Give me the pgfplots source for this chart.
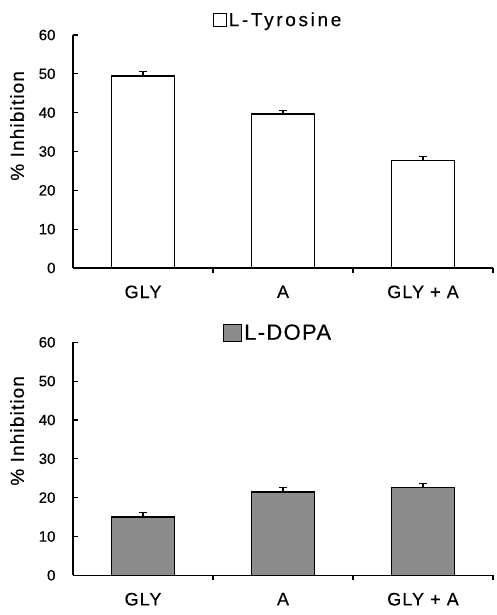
\documentclass[border=0pt]{standalone}
\usepackage{pgfplots}
\pgfplotsset{compat=1.18}
\usepackage{fontspec}
\setmainfont{Liberation Sans}
\newfontfamily\wide[LetterSpace=6,FakeBold=0.4]{Liberation Sans}
\newfontfamily\widett[LetterSpace=14,FakeBold=0.4]{Liberation Sans}
\newfontfamily\tickf[FakeBold=0.4]{Liberation Sans}
\definecolor{dopagray}{HTML}{8C8C8C}

\pgfplotsset{
  panel/.style={
    width=420pt, height=233pt, scale only axis,
    xmin=0, xmax=3, ymin=0, ymax=60,
    axis x line=bottom, axis y line=left,
    axis line style={-, line width=1.6pt},
    tick align=inside,
    major tick length=5pt,
    tick style={black, line width=1.2pt},
    ytick={0,10,...,60},
    yticklabel style={font=\tickf\fontsize{15}{15}\selectfont, xshift=-14pt},
    /pgf/number format/assume math mode=true,
    xtick={1,2,3}, xticklabels={},
    extra x ticks={0.5,1.5,2.5},
    extra x tick labels={GLY, A, GLY + A},
    extra x tick style={major tick length=0pt,
      xticklabel style={font=\wide\fontsize{18}{18}\selectfont, yshift=-14pt}},
    ybar, bar width=0.45,
    error bars/y dir=plus, error bars/y explicit,
    error bars/error bar style={line width=1.2pt, black},
    error bars/error mark options={rotate=90, mark size=4pt, line width=1.2pt, black},
    legend style={draw=none, fill=none, anchor=center},
    clip=false,
  }
}

\begin{document}
\begin{tikzpicture}
\useasboundingbox (0,0) rectangle (496pt,615pt);

% L-Tyrosine
\begin{axis}[panel, at={(73pt,347pt)}, anchor=south west,
  legend style={at={(0.488,1)}, yshift=15pt, font=\widett\fontsize{19}{19}\selectfont},
  legend image code/.code={\draw[black, line width=1.2pt, fill=white] (0pt,-6.5pt) rectangle (13pt,6.5pt);}]
\addplot[draw=black, line width=1.6pt, fill=white]
  coordinates {(0.5,49.5) +- (0,1.1) (1.5,39.7) +- (0,0.8) (2.5,27.7) +- (0,1.1)};
\addlegendentry{L-Tyrosine}
\node[rotate=90, font=\fontsize{19}{19}\selectfont\wide] at (rel axis cs:-0.133,0.61) {\% Inhibition};
\end{axis}

% L-DOPA
\begin{axis}[panel, at={(73pt,39.7pt)}, anchor=south west,
  legend style={at={(0.488,1)}, yshift=9.5pt, font=\wide\fontsize{22}{22}\selectfont},
  legend image code/.code={\draw[black, line width=1.4pt, fill=dopagray] (0pt,-8.5pt) rectangle (18pt,8.5pt);}]
\addplot[draw=black, line width=1.6pt, fill=dopagray]
  coordinates {(0.5,15.0) +- (0,1.2) (1.5,21.4) +- (0,1.2) (2.5,22.6) +- (0,1.1)};
\addlegendentry{L-DOPA}
\node[rotate=90, font=\fontsize{19}{19}\selectfont\wide] at (rel axis cs:-0.133,0.62) {\% Inhibition};
\end{axis}
\end{tikzpicture}
\end{document}
